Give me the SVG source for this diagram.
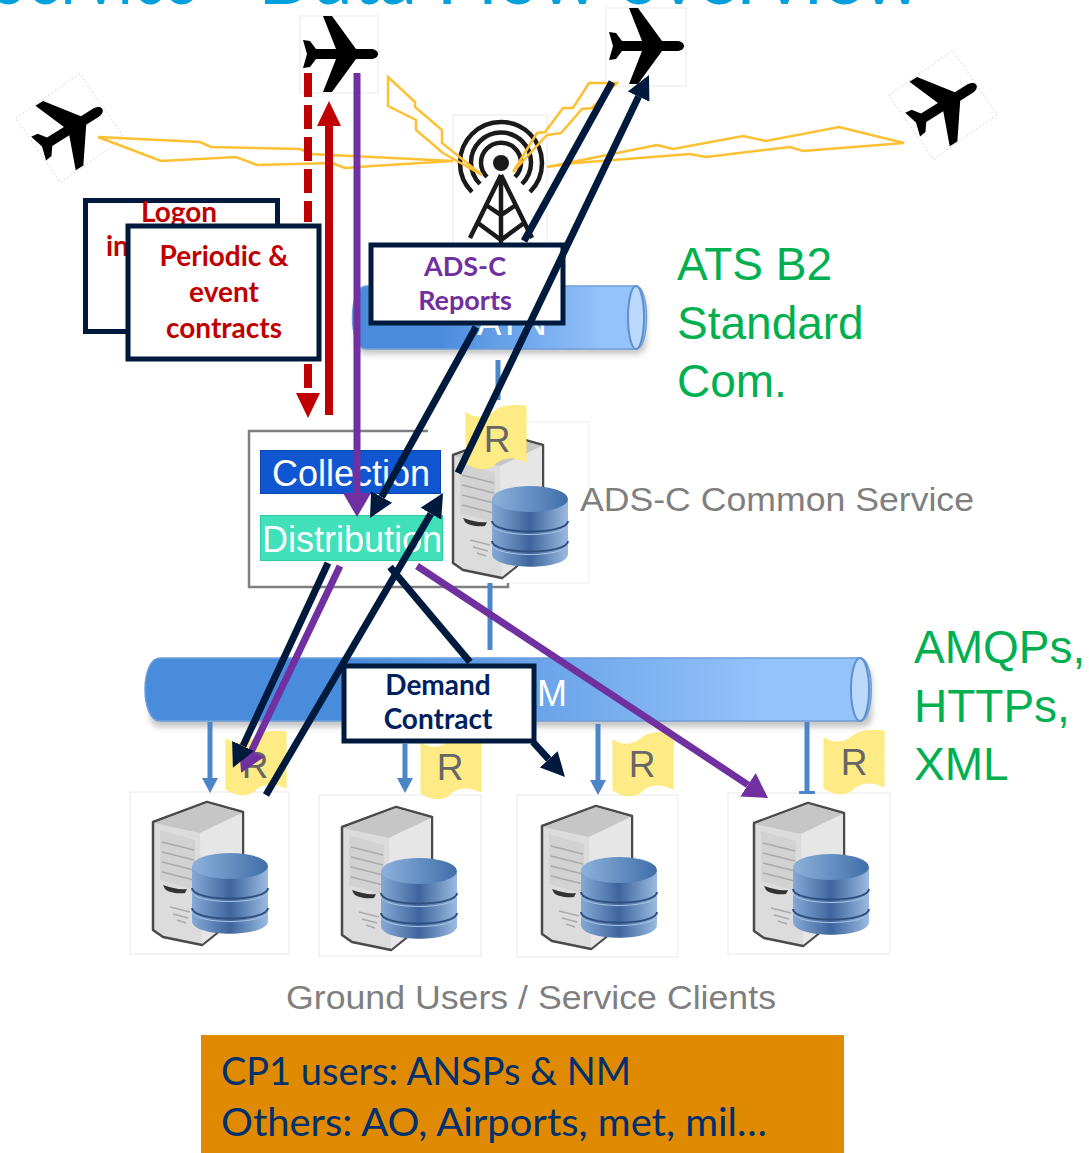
<svg xmlns="http://www.w3.org/2000/svg" width="1089" height="1153" viewBox="0 0 1089 1153">
<style>
.box{fill:#fff;stroke:#001a3d;stroke-width:5}
.img{fill:#fff;stroke:#e8e8e8;stroke-width:1}
.rot{fill:#fff;stroke:#ddd;stroke-width:1;stroke-dasharray:2 2}
.b{font-family:"Lato","Liberation Sans",sans-serif;font-weight:700;text-anchor:middle}
.red{fill:#c00000;font-size:28px}
.pur{fill:#7030a0;font-size:27px}
.nav{fill:#002060;font-size:28px}
.s{font-family:"Liberation Sans",Arial,sans-serif}
.grn{fill:#00b050;font-size:46px}
.gry{fill:#7f7f7f;font-size:34px}
.wht{fill:#fff;font-size:36px}
.rl{fill:#666;font-size:37px;text-anchor:middle}
.tag{fill:#ffeb85;stroke:#ffe96a;stroke-width:1}
.cap{font-family:"Lato","Liberation Sans",sans-serif;fill:#00306e;font-size:38px}
.zig{fill:none;stroke:#fdc033;stroke-width:2.500}
.dk{fill:none;stroke:#001a3d;stroke-width:7}
.pl{fill:none;stroke:#7030a0;stroke-width:7}
.rd{fill:none;stroke:#c00000;stroke-width:8}
.bl{fill:none;stroke:#4a86c8;stroke-width:5}
</style>
<defs>
<linearGradient id="cyl" x1="0" x2="1" y1="0" y2="0"><stop offset="0.3" stop-color="#4a8cdc"/><stop offset="0.85" stop-color="#94c2fb"/></linearGradient>
<linearGradient id="dbg" x1="0" x2="1" y1="0" y2="0"><stop offset="0" stop-color="#86a9d6"/><stop offset="0.5" stop-color="#3e659c"/><stop offset="1" stop-color="#9abbe2"/></linearGradient>
<linearGradient id="dbt" x1="0" x2="1" y1="0" y2="0"><stop offset="0" stop-color="#8db2dc"/><stop offset="1" stop-color="#3f6ea8"/></linearGradient>
<filter id="sh" x="-5%" y="-20%" width="110%" height="150%"><feGaussianBlur stdDeviation="3"/></filter>
<marker id="hd" markerUnits="userSpaceOnUse" markerWidth="26" markerHeight="26" refX="0" refY="13" orient="auto"><path d="M0,1 L24,13 L0,25Z" fill="#001a3d"/></marker>
<marker id="hp" markerUnits="userSpaceOnUse" markerWidth="26" markerHeight="30" refX="0" refY="15" orient="auto"><path d="M0,1 L24,15 L0,29Z" fill="#7030a0"/></marker>
<marker id="hr" markerUnits="userSpaceOnUse" markerWidth="28" markerHeight="26" refX="0" refY="13" orient="auto"><path d="M0,1 L25,13 L0,25Z" fill="#c00000"/></marker>
<marker id="hb" markerUnits="userSpaceOnUse" markerWidth="16" markerHeight="18" refX="0" refY="9" orient="auto"><path d="M0,1 L15,9 L0,17Z" fill="#4a86c8"/></marker>
<marker id="tb" markerUnits="userSpaceOnUse" markerWidth="4" markerHeight="18" refX="2" refY="9" orient="auto"><path d="M0,1 H3 V17 H0Z" fill="#4a86c8"/></marker>
<path id="plane" d="M38,0 C38,-3 35,-5 30,-5 L16,-5 L-8,-38 L-17,-38 L-4,-5 L-24,-5 L-30,-13 L-37,-14 L-33,0 L-37,14 L-30,13 L-24,5 L-4,5 L-17,38 L-8,38 L16,5 L30,5 C35,5 38,3 38,0Z" fill="#000"/>
<path id="rtag" d="M0,8 C8,14 20,14 29,6 C35,1 45,0 60,1 L60,57 C50,52 38,50 28,60 C20,66 8,64 0,58 Z" class="tag"/>
<g id="server">
<path d="M23,30 L77,10 L113,20 V100 L87,141 L72,153 L33,145 L23,138Z" fill="#dcdcdc" stroke="#4a4a4a" stroke-width="2.500" stroke-linejoin="round"/>
<path d="M24,31 L77,11 L112,21 L70,41Z" fill="#c6c6c6"/>
<path d="M70,41 L112,21 V100 L87,140 L72,152Z" fill="#e6e6e6"/>
<path d="M30,38 L65,48 V98 L30,88Z" fill="#d2d2d2"/>
<path d="M32,50 L64,58 M32,60 L64,68 M32,70 L64,78 M32,80 L64,88 M40,115 L60,120 M43,122 L58,126 M47,128 L56,131" stroke="#ababab" stroke-width="1.500" fill="none"/>
<path d="M33,93 C42,96 50,98 57,97 L55,101 C46,102 38,100 35,97Z" fill="#333"/>
<path d="M62,74 V129 C62,146 138,146 138,129 V74Z" fill="url(#dbg)"/>
<ellipse cx="100" cy="74" rx="38" ry="13" fill="url(#dbt)"/>
<path d="M62,96 C62,110 138,110 138,96 M62,116 C62,130 138,130 138,116" fill="none" stroke="#2f4f7f" stroke-width="2"/>
<path d="M62,99 C62,113 138,113 138,99 M62,119 C62,133 138,133 138,119" fill="none" stroke="#a9c5e6" stroke-width="1"/>
</g>
</defs>
<g id="title"><text y="4" font-family="Lato,'Liberation Sans',sans-serif" font-size="82" fill="#00a0dc"><tspan x="-8" textLength="205" lengthAdjust="spacingAndGlyphs">Service</tspan><tspan x="218">-</tspan><tspan x="258" textLength="664" lengthAdjust="spacingAndGlyphs">Data Flow overview</tspan></text></g>
<g id="plane-left"><g transform="translate(70,128) rotate(-35)"><rect x="-39" y="-39" width="78" height="78" class="rot"/></g><use href="#plane" transform="translate(70,129) rotate(-32)"/></g>
<g id="plane-top"><rect x="300" y="16" width="78" height="77" class="img"/><use href="#plane" transform="translate(340,54)"/></g>
<g id="plane-mid"><rect x="606" y="8" width="80" height="78" class="img"/><use href="#plane" transform="translate(646,46)"/></g>
<g id="plane-right"><g transform="translate(943,105) rotate(-35)"><rect x="-39" y="-39" width="78" height="78" class="rot"/></g><use href="#plane" transform="translate(944,105) rotate(-32)"/></g>
<g id="tower"><rect x="453" y="115" width="94" height="130" class="img"/>
<g fill="none" stroke="#1a1a1a" stroke-width="4.500"><path d="M472,192 A41,41 0 1 1 530,192"/><path d="M480,184 A30,30 0 1 1 522,184"/><path d="M487,177 A20,20 0 1 1 515,177"/>
<path d="M501,175 L470,238 M501,175 L532,238 M501,175 V243 M486,205 L501,215 L516,205 M478,223 L501,240 L524,223"/></g><circle cx="501" cy="163" r="8" fill="#1a1a1a"/></g>
<g id="atn"><rect x="356" y="294" width="290" height="60" rx="10" fill="#888" opacity=".5" filter="url(#sh)"/>
<path d="M366,286 H636 C650,286 650,349 636,349 H366 C348,349 348,286 366,286Z" fill="url(#cyl)" stroke="#6f9fd8" stroke-width="1.500"/><ellipse cx="636" cy="317.500" rx="8" ry="31.500" fill="#bcd8fb" stroke="#5e8fcf" stroke-width="2"/>
<text x="512" y="335" class="s wht" text-anchor="middle">ATN</text></g>
<g id="swim"><rect x="150" y="667" width="722" height="60" rx="10" fill="#888" opacity=".5" filter="url(#sh)"/>
<path d="M160,658 H860 C875,658 875,721 860,721 H160 C140,721 140,658 160,658Z" fill="url(#cyl)" stroke="#6f9fd8" stroke-width="1.500"/><ellipse cx="860" cy="689.500" rx="9" ry="31.500" fill="#bcd8fb" stroke="#5e8fcf" stroke-width="2"/>
<text x="567" y="706" class="s wht" text-anchor="end">SWIM</text></g>
<g id="common-service">
<path d="M428,431 H249 V587 H508 V581" fill="none" stroke="#7f7f7f" stroke-width="2.500"/>
<rect x="430" y="422" width="159" height="161" fill="#fff"/><path d="M500,422 H589 V583 H510" fill="none" stroke="#ececec"/>
<use href="#server" x="430" y="425"/>
<use href="#rtag" x="466" y="405"/><text x="497" y="452" class="s rl">R</text>
<text x="580" y="511" class="s gry" textLength="394" lengthAdjust="spacingAndGlyphs">ADS-C Common Service</text></g>
<g id="collection"><rect x="260.500" y="450.500" width="180" height="43" fill="#0f56d0" stroke="#0b48ae"/><text x="272" y="486" class="s wht">Collection</text></g>
<g id="distribution"><rect x="260.500" y="515.500" width="182" height="45" fill="#40e0b8" stroke="#2fc9a2"/><text x="262" y="552" class="s wht">Distribution</text></g>
<g id="client-1"><rect x="130" y="792" width="159" height="162" class="img"/><use href="#server" x="130" y="792"/><use href="#rtag" x="226" y="731"/><text x="255" y="778" class="s rl">R</text></g>
<g id="client-2"><rect x="319" y="795" width="162" height="161" class="img"/><use href="#server" x="319" y="797"/><use href="#rtag" x="421" y="735"/><text x="450" y="780" class="s rl">R</text></g>
<g id="client-3"><rect x="517" y="795" width="161" height="162" class="img"/><use href="#server" x="519" y="796"/><use href="#rtag" x="613" y="732"/><text x="642" y="777" class="s rl">R</text></g>
<g id="client-4"><rect x="728" y="793" width="162" height="161" class="img"/><use href="#server" x="731" y="793"/><use href="#rtag" x="824" y="730"/><text x="854" y="775" class="s rl">R</text></g>
<g id="logon-box"><rect x="85.500" y="200.500" width="192" height="131" class="box"/><text x="179" y="222" class="b red">Logon</text><text x="106" y="256" class="b red" style="text-anchor:start">in</text></g>
<g id="periodic-box"><rect x="128" y="226" width="191" height="133" class="box"/><text x="224" y="266" class="b red">Periodic &amp;</text><text x="224" y="302" class="b red">event</text><text x="224" y="338" class="b red">contracts</text></g>
<g id="adsc-box"><rect x="371" y="245" width="192" height="78" class="box"/><text x="465" y="276" class="b pur">ADS-C</text><text x="465" y="310" class="b pur">Reports</text></g>
<g id="demand-box"><rect x="344" y="666" width="190" height="75" class="box"/><text x="438" y="695" class="b nav">Demand</text><text x="438" y="729" class="b nav">Contract</text></g>
<g id="green-labels" class="s grn"><text x="677" y="280">ATS B2</text><text x="677" y="339">Standard</text><text x="677" y="397">Com.</text><text x="914" y="663">AMQPs,</text><text x="914" y="722">HTTPs,</text><text x="914" y="780">XML</text></g>
<g id="clients-label"><text x="286" y="1009" class="s gry" textLength="490" lengthAdjust="spacingAndGlyphs">Ground Users / Service Clients</text></g>
<g id="users-box"><rect x="201" y="1035" width="643" height="118" fill="#df8a00"/><text x="221" y="1085" class="cap" textLength="410" lengthAdjust="spacingAndGlyphs">CP1 users: ANSPs &amp; NM</text><text x="221" y="1136" class="cap" textLength="546" lengthAdjust="spacingAndGlyphs">Others: AO, Airports, met, mil…</text></g>
<g id="connectors">
<path class="zig" d="M98,137 L200,142 L211,147 L300,149 L311,154 L453,161 L372,166 L345,168 L332,163 L257,165 L236,157 L161,161Z"/>
<path class="zig" d="M388,77 L415,102 V107 L442,130 V143 L482,175 L443,153 L416,130 V120 L388,106Z"/>
<path class="zig" d="M513,172 L537,133 L545,132 L563,108 H573 L589,83 H617 L592,108 L582,109 L561,133 L547,135Z"/>
<path class="zig" d="M547,167 L657,145 L673,149 L743,136 L766,141 L839,127 L904,143 L803,151 L790,147 L706,157 L690,154 L575,163Z"/>
<path class="bl" d="M498,360 V400"/>
<path class="bl" d="M490,583 V650"/>
<path class="bl" d="M210,722 V778" marker-end="url(#hb)"/>
<path class="bl" d="M405,743 V778" marker-end="url(#hb)"/>
<path class="bl" d="M598,724 V780" marker-end="url(#hb)"/>
<path class="bl" d="M807,722 V793" marker-end="url(#tb)"/>
<path class="rd" stroke-dasharray="24 8" d="M308,73 V222"/>
<path class="rd" stroke-dasharray="24 8" d="M308,364 V393" marker-end="url(#hr)"/>
<path class="rd" d="M329,415 V126" marker-end="url(#hr)"/>
<path class="pl" d="M357,73 V493" marker-end="url(#hp)"/>
<path class="dk" d="M612,82 L524,241"/>
<path class="dk" d="M476,327 L381.600,497" marker-end="url(#hd)"/>
<path class="dk" d="M458,473 L638.600,96.600" marker-end="url(#hd)"/>
<path class="dk" d="M266,795 L430.900,513.700" marker-end="url(#hd)"/>
<path class="pl" d="M340,566 L251.500,751" marker-end="url(#hp)"/>
<path class="dk" d="M328,563 L243,746" marker-end="url(#hd)"/>
<path class="dk" d="M390,567 L470,662"/>
<path class="dk" d="M533,742 L548.800,759.300" marker-end="url(#hd)"/>
<path class="pl" d="M417,566 L748,784.800" marker-end="url(#hp)"/>
</g>
</svg>
